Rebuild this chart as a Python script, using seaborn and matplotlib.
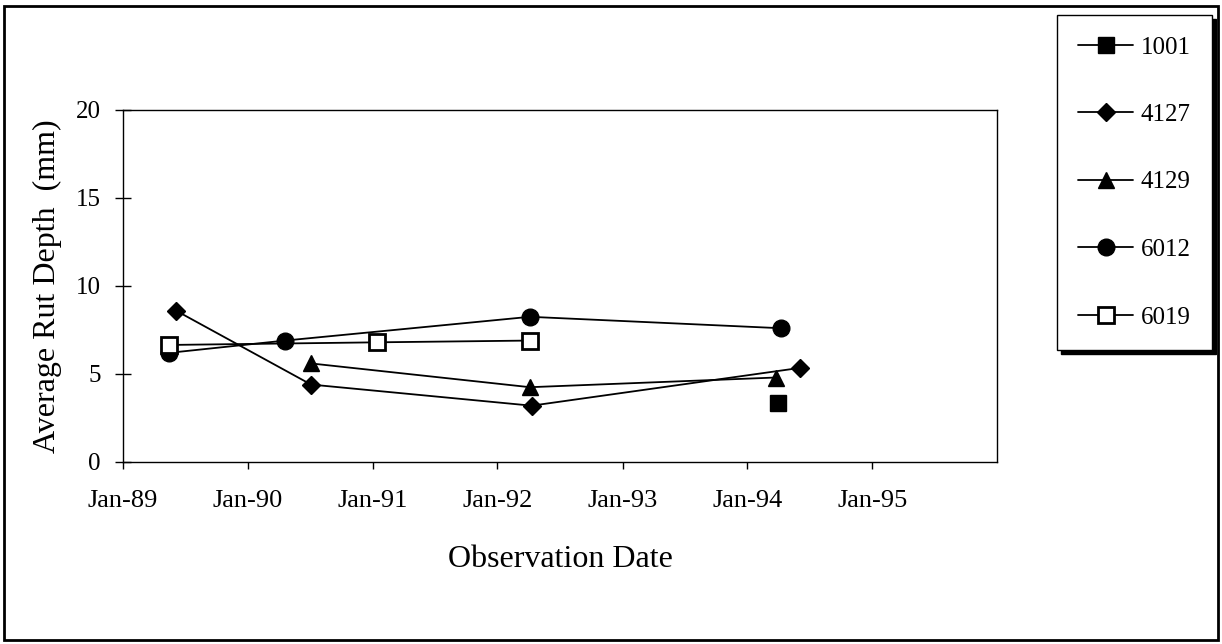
import pandas as pd
import matplotlib
matplotlib.use("Agg")
import matplotlib.pyplot as plt
import matplotlib.dates as mdates
from matplotlib.patches import Rectangle
import seaborn as sns

dates_1001 = ["1994-04-01"]
rut_1001 = [3.35]

dates_4127 = ["1989-06-05", "1990-07-05", "1992-04-10", "1994-06-05"]
rut_4127 = [8.6, 4.4, 3.2, 5.35]

dates_4129 = ["1990-07-05", "1992-04-05", "1994-03-25"]
rut_4129 = [5.6, 4.25, 4.8]

dates_6012 = ["1989-05-15", "1990-04-20", "1992-04-05", "1994-04-10"]
rut_6012 = [6.2, 6.9, 8.25, 7.6]

dates_6019 = ["1989-05-15", "1991-01-15", "1992-04-05"]
rut_6019 = [6.65, 6.8, 6.9]

sections = ["1001", "4127", "4129", "6012", "6019"]
all_dates = [dates_1001, dates_4127, dates_4129, dates_6012, dates_6019]
all_rut = [rut_1001, rut_4127, rut_4129, rut_6012, rut_6019]
markers = ["s", "D", "^", "o", "s"]
marker_sizes = [12, 9, 12, 12, 11.5]
face_colors = ["black", "black", "black", "black", "white"]

year_ticks = ["1989", "1990", "1991", "1992", "1993", "1994", "1995"]

sns.set_style("white")
plt.rcParams["font.family"] = ["Liberation Serif", "DejaVu Serif"]
plt.rcParams["text.color"] = "black"
plt.rcParams["axes.labelcolor"] = "black"
plt.rcParams["xtick.color"] = "black"
plt.rcParams["ytick.color"] = "black"

fig = plt.figure(figsize=(12.22, 6.44), dpi=100)
ax = fig.add_axes([123 / 1222, 1 - 462 / 644, (997 - 123) / 1222, (462 - 110) / 644])

for sec, d, r, m, ms, fc in zip(sections, all_dates, all_rut, markers, marker_sizes, face_colors):
    df = pd.DataFrame({"date": pd.to_datetime(d), "rut": r})
    sns.lineplot(data=df, x="date", y="rut", ax=ax, color="black", linewidth=1.3,
                 marker=m, markersize=ms, markerfacecolor=fc, markeredgecolor="black",
                 markeredgewidth=2 if fc == "white" else 1, label=sec)

ax.set_xlim(pd.Timestamp("1989-01-01"), pd.Timestamp("1996-01-01"))
ax.set_ylim(0, 20)
ax.set_yticks([0, 5, 10, 15, 20])
ax.set_xticks(pd.to_datetime([y + "-01-01" for y in year_ticks]))
ax.xaxis.set_major_formatter(mdates.DateFormatter("%b-%y"))

for s in ax.spines.values():
    s.set_visible(True)
    s.set_color("black")
    s.set_linewidth(1.0)

ax.tick_params(axis="y", direction="inout", length=12, width=1, labelsize=18, pad=10, left=True)
ax.tick_params(axis="x", direction="out", length=5, width=1, labelsize=19, pad=15, bottom=True)

ax.set_xlabel("Observation Date", fontsize=23, labelpad=24)
ax.set_ylabel("Average Rut Depth  (mm)", fontsize=23, labelpad=10)

leg = ax.legend(loc="upper left", bbox_to_anchor=(1057 / 1222, 1 - 15 / 644),
                bbox_transform=fig.transFigure, fontsize=18, frameon=True,
                fancybox=False, edgecolor="black", labelspacing=1.8,
                handlelength=2.2, handletextpad=0.3, borderpad=0.84, borderaxespad=0,
                markerscale=1.0, shadow={"color": "black", "alpha": 1, "ox": 3, "oy": -3})
leg.get_frame().set_linewidth(1.0)

# outer chart border
fig.patches.append(Rectangle((4 / 1222, 4 / 644), 1214 / 1222, 634 / 644,
                             transform=fig.transFigure, fill=False,
                             edgecolor="black", linewidth=2))

fig.savefig("out.png", dpi=100)
